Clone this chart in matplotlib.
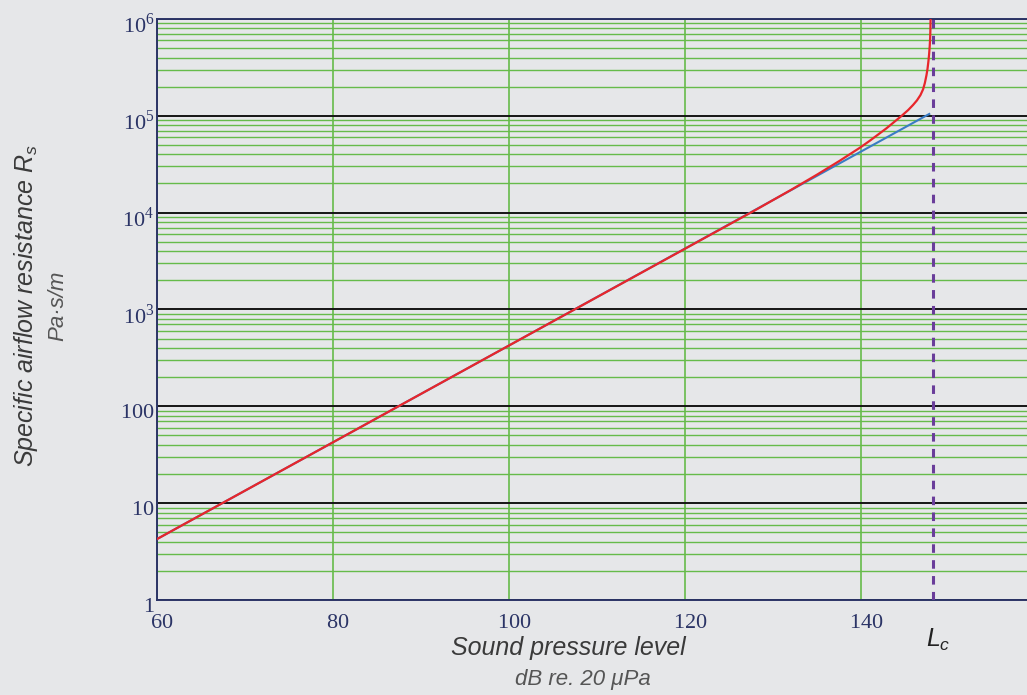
import matplotlib
matplotlib.use('Agg')
import matplotlib.pyplot as plt
import matplotlib.transforms as mtransforms
from matplotlib.ticker import FixedLocator, LogLocator, NullFormatter

plt.rcParams['mathtext.fontset'] = 'custom'
plt.rcParams['mathtext.rm'] = 'Liberation Serif'
plt.rcParams['mathtext.it'] = 'Liberation Sans:italic'

# data
spl_linear = [60, 100, 147.7]
rs_linear = [4.26, 426, 104500]

spl_actual = [60, 80, 100, 120, 128, 132, 135, 137.5, 139.8, 140.94, 142.84,
              144.54, 145.3, 145.86, 146.3, 146.7, 147.0, 147.2, 147.38,
              147.5, 147.6, 147.68, 147.75, 147.8, 147.83, 147.85]
rs_actual = [4.26, 42.6, 426, 4256, 10690, 17180, 24830, 34200, 46670, 55210,
             74300, 99540, 114600, 129400, 144200, 163700, 187900, 218300,
             261800, 304800, 362200, 429500, 520700, 629500, 777000, 1000000]

L_c = 148.1

x_ticks = [60, 80, 100, 120, 140]
y_ticks = [1, 10, 100, 1e3, 1e4, 1e5, 1e6]
y_tick_labels = ['$1$', '$10$', '$100$', '$10^{3}$', '$10^{4}$', '$10^{5}$', '$10^{6}$']

bg = '#e6e7e9'
navy = '#2b3466'
green = '#66bb4a'

fig = plt.figure(figsize=(10.27, 6.95), dpi=100, facecolor=bg)
ax = fig.add_axes([0.1529, 0.1367, 0.8471, 0.836])
ax.set_facecolor(bg)

ax.set_yscale('log')
ax.set_xlim(60, 158.8)
ax.set_ylim(1, 1e6)

ax.xaxis.set_major_locator(FixedLocator(x_ticks))
ax.set_xticklabels([r'$%d$' % v for v in x_ticks])
ax.yaxis.set_major_locator(FixedLocator(y_ticks))
ax.set_yticklabels(y_tick_labels)
ax.yaxis.set_minor_locator(LogLocator(base=10, subs=range(2, 10), numticks=20))
ax.yaxis.set_minor_formatter(NullFormatter())

ax.grid(True, axis='x', which='major', color=green, lw=1.2, zorder=0)
ax.grid(True, axis='y', which='minor', color=green, lw=1.0, zorder=0)
ax.grid(True, axis='y', which='major', color='#151515', lw=1.4, zorder=1)
ax.set_axisbelow(True)

ax.tick_params(axis='both', which='both', length=0, labelsize=16, labelcolor=navy)
ax.tick_params(axis='x', pad=9)
ax.tick_params(axis='y', pad=2)

dx = mtransforms.ScaledTranslation(5 / 100, 0, fig.dpi_scale_trans)
for lab in ax.get_xticklabels():
    lab.set_transform(lab.get_transform() + dx)
dy = mtransforms.ScaledTranslation(0, -4 / 100, fig.dpi_scale_trans)
for lab in ax.get_yticklabels():
    lab.set_transform(lab.get_transform() + dy)

for side in ['left', 'top', 'bottom']:
    ax.spines[side].set_color(navy)
    ax.spines[side].set_linewidth(1.4)
ax.spines['right'].set_visible(False)

ax.axvline(L_c, color='#6a3d9a', lw=2.2, ls=(0, (2.8, 2.4)), zorder=4)
ax.plot(spl_linear, rs_linear, color='#3a7cc4', lw=1.5, zorder=5)
ax.plot(spl_actual, rs_actual, color='#e8262b', lw=1.6, zorder=6)

fig.text(0.553, 0.068, 'Sound pressure level', ha='center', va='center',
         fontsize=18, style='italic', family='Liberation Sans', color='#3a3a3a')
fig.text(0.568, 0.022, 'dB re. 20 μPa', ha='center', va='center',
         fontsize=16, style='italic', family='Liberation Sans', color='#555555')
fig.text(0.025, 0.56, 'Specific airflow resistance $R_s$', ha='center', va='center',
         rotation=90, fontsize=18, style='italic', family='Liberation Sans',
         color='#3a3a3a')
fig.text(0.056, 0.56, 'Pa·s/m', ha='center', va='center', rotation=90,
         fontsize=16, style='italic', family='Liberation Sans', color='#555555')
ax.annotate('$L_c$', xy=(L_c, 1), xycoords=('data', 'data'),
            xytext=(4, -29), textcoords='offset points', ha='center', va='center',
            fontsize=18, color='#222222', annotation_clip=False)

fig.savefig('out.png', dpi=100, facecolor=bg)
